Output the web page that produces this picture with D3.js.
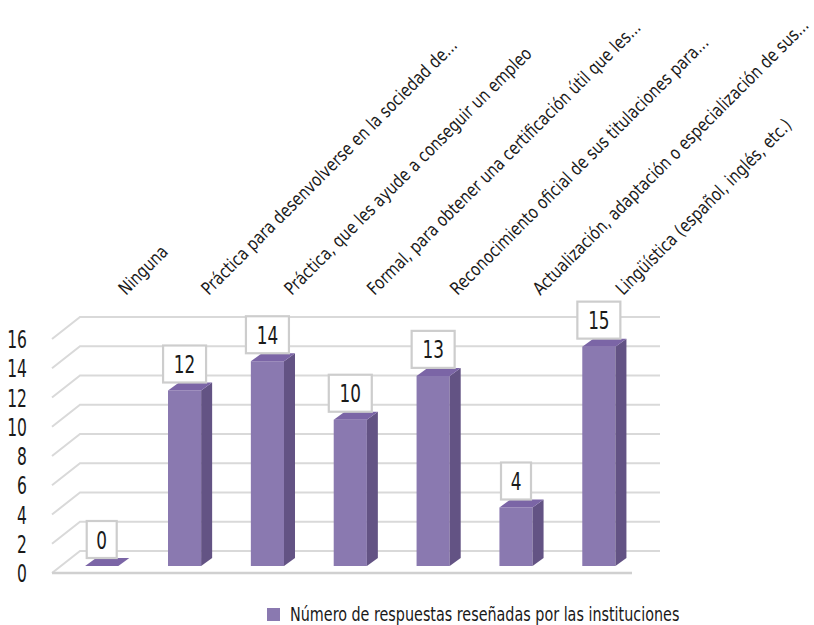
<!DOCTYPE html>
<html>
<head>
<meta charset="utf-8">
<script src="https://cdn.jsdelivr.net/npm/d3@7"></script>
<style>
  html, body { margin: 0; padding: 0; background: #fff; }
  svg text { font-family: "Liberation Sans Narrow", "DejaVu Sans Condensed", "Roboto", sans-serif; fill: #1a1a1a; }
</style>
</head>
<body>
<svg id="chart" width="814" height="625"></svg>
<script>
// Tipos de formación solicitada
const categories = [
  "Ninguna",
  "Práctica para desenvolverse en la sociedad de...",
  "Práctica, que les ayude a conseguir un empleo",
  "Formal, para obtener una certificación útil que les...",
  "Reconocimiento oficial de sus titulaciones para...",
  "Actualización, adaptación o especialización de sus...",
  "Lingüística (español, inglés, etc.)"
];
const values = [0, 12, 14, 10, 13, 4, 15];
const yTicks = [0, 2, 4, 6, 8, 10, 12, 14, 16];
const seriesName = "Número de respuestas reseñadas por las instituciones";

const svg = d3.select("#chart");

// Plot frame: front floor edge and the perspective offset of the back wall
const left = 52, right = 632;
const wallDX = 28, wallDY = -22;
const x = d3.scaleBand().domain(categories).range([left, right]).padding(0);
const y = d3.scaleLinear().domain([0, 16]).range([573, 339]);

// Bars sit partway into the floor depth
const barShiftY = -7;
const barW = x.bandwidth() * 0.4;
const depthX = 11, depthY = -8;
const barX = c => x(c) + x.bandwidth() * 0.4;

const colFront = "#8a79b0", colSide = "#635384", colTop = "#7b65a6";

// Gridlines: side-wall diagonal plus back-wall horizontal for each tick
const grid = svg.append("g");
grid.selectAll("path").data(yTicks).join("path")
  .attr("fill", "none")
  .attr("stroke", "#d9d9d9")
  .attr("stroke-width", 2)
  .attr("d", t => {
    const yf = y(t);
    return `M${left},${yf} L${left + wallDX},${yf + wallDY} L${right + wallDX},${yf + wallDY}`;
  });
// Front floor edge
grid.append("line")
  .attr("x1", left).attr("x2", right)
  .attr("y1", y(0)).attr("y2", y(0))
  .attr("stroke", "#d0d0d0").attr("stroke-width", 2.5);

// Y axis labels (condensed horizontally)
const yAxis = d3.axisLeft(y).tickValues(yTicks).tickSize(0).tickPadding(0).tickFormat(d3.format("d"));
const ya = svg.append("g").attr("transform", "translate(27,0)").call(yAxis);
ya.select(".domain").remove();
ya.selectAll("text")
  .attr("font-size", 24)
  .attr("dy", "0.36em")
  .attr("text-anchor", "end")
  .attr("fill", "#1a1a1a")
  .attr("transform", "scale(0.72,1)");

// 3D bars
const bars = svg.append("g").selectAll("g").data(categories).join("g");
bars.each(function(c, i) {
  const g = d3.select(this);
  const v = values[i];
  const x0 = barX(c);
  const yb = y(0) + barShiftY;
  const yt = y(v) + barShiftY;
  if (v > 0) {
    g.append("rect")
      .attr("x", x0).attr("y", yt)
      .attr("width", barW).attr("height", yb - yt)
      .attr("fill", colFront);
    g.append("path")
      .attr("fill", colSide)
      .attr("d", `M${x0 + barW},${yt} L${x0 + barW + depthX},${yt + depthY} L${x0 + barW + depthX},${yb + depthY} L${x0 + barW},${yb} Z`);
  }
  g.append("path")
    .attr("fill", colTop)
    .attr("d", `M${x0},${yt} L${x0 + depthX},${yt + depthY} L${x0 + barW + depthX},${yt + depthY} L${x0 + barW},${yt} Z`);
});

// Value labels in boxes
const labels = svg.append("g").selectAll("g").data(categories).join("g");
labels.each(function(c, i) {
  const g = d3.select(this);
  const v = values[i];
  const cx = barX(c) + barW / 2;
  const bottom = y(v) + barShiftY + depthY;
  const txt = String(v);
  const bw = txt.length > 1 ? 43 : 30;
  const bh = 37;
  g.append("rect")
    .attr("x", cx - bw / 2).attr("y", bottom - bh)
    .attr("width", bw).attr("height", bh)
    .attr("fill", "#fff")
    .attr("stroke", "#cdcdcd").attr("stroke-width", 2.2);
  g.append("text")
    .attr("transform", `translate(${cx},${bottom - bh / 2}) scale(0.75,1)`)
    .attr("text-anchor", "middle")
    .attr("dy", "0.36em")
    .attr("font-size", 25)
    .text(txt);
});

// Category labels, rotated
svg.append("g").selectAll("text").data(categories).join("text")
  .attr("transform", c => `translate(${x(c) + 74},296) rotate(-45) scale(0.9,1)`)
  .attr("font-size", 18)
  .attr("text-anchor", "start")
  .text(c => c);

// Legend
const leg = svg.append("g");
leg.append("rect")
  .attr("x", 267).attr("y", 608).attr("width", 13).attr("height", 13)
  .attr("fill", colFront);
leg.append("text")
  .attr("transform", "translate(290,621) scale(0.84,1)")
  .attr("font-size", 19)
  .text(seriesName);
</script>
</body>
</html>
